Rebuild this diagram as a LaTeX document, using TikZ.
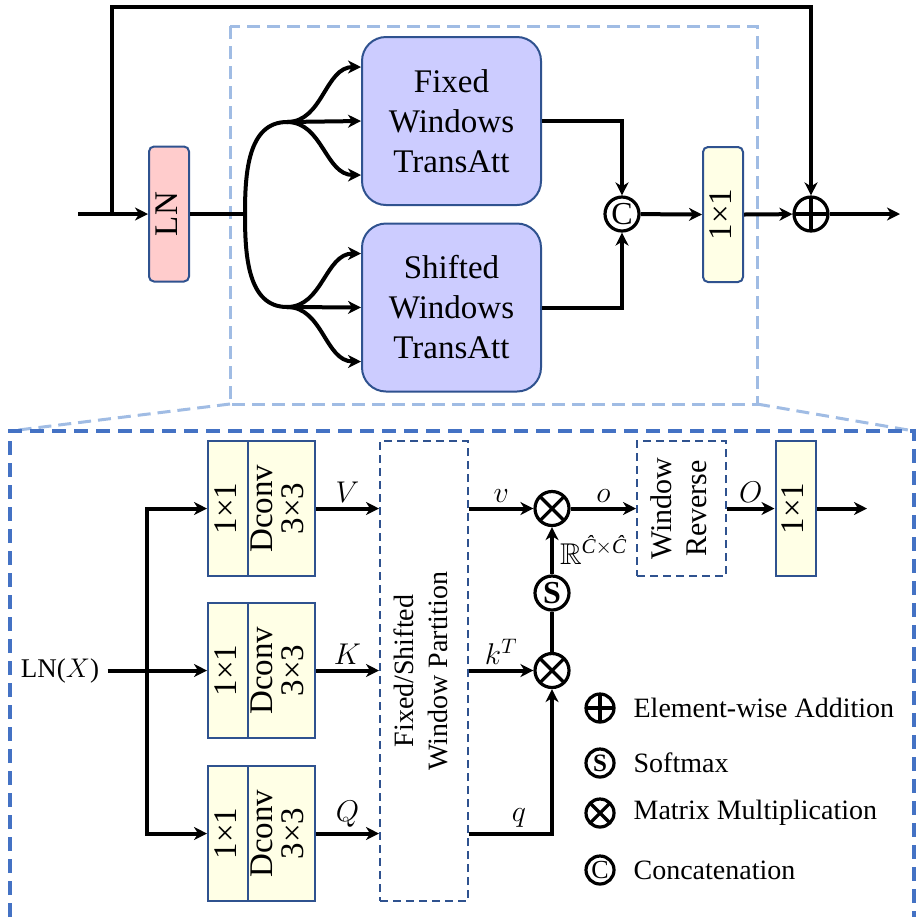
\RequirePackage{fix-cm}
\documentclass[tikz,border=0pt]{standalone}
\usepackage{amsmath,amssymb}
\usepackage{fontspec}
\setmainfont{Liberation Serif}
\usetikzlibrary{arrows.meta,positioning,calc}
\definecolor{lavender}{RGB}{204,204,255}
\definecolor{rosy}{RGB}{255,204,204}
\definecolor{cream}{RGB}{255,255,230}
\definecolor{edgeblue}{RGB}{47,82,143}
\definecolor{paleblue}{RGB}{160,188,228}
\definecolor{frameblue}{RGB}{68,114,196}
\newcommand{\vtext}[1]{\rotatebox{90}{\begin{tabular}{@{}c@{}}#1\end{tabular}}}
\tikzset{%
    att node/.style={draw=edgeblue, fill=lavender, line width=1pt,
        rounded corners=12pt, minimum width=89.5pt, minimum height=84pt,
        align=center, font=\fontsize{16.5}{20}\selectfont},
    bar node/.style={draw=edgeblue, line width=1pt, minimum width=17pt,
        minimum height=67.5pt, inner sep=0pt, font=\fontsize{16.5}{20}\selectfont},
    conv node/.style={draw=edgeblue, fill=cream, line width=1pt,
        minimum width=33.5pt, minimum height=67.5pt, inner sep=0pt,
        font=\fontsize{16.5}{15}\selectfont},
    part node/.style={draw=edgeblue, line width=1pt,
        dash pattern=on 4pt off 2.5pt, inner sep=0pt},
    op node/.style={circle, draw, line width=1.6pt, inner sep=0pt,
        minimum size=17pt},
    plus op/.style={op node, path picture={\draw[line width=1.6pt]
        (path picture bounding box.north) -- (path picture bounding box.south)
        (path picture bounding box.west) -- (path picture bounding box.east);}},
    times op/.style={op node, path picture={\draw[line width=1.6pt]
        (path picture bounding box.north west) -- (path picture bounding box.south east)
        (path picture bounding box.south west) -- (path picture bounding box.north east);}},
    key node/.style={anchor=west, inner sep=0pt, font=\fontsize{14}{16}\selectfont},
    lbl/.style={font=\fontsize{15}{18}\selectfont, inner sep=2pt}
}

\begin{document}
\begin{tikzpicture}[x=0.5pt,y=-0.5pt,line width=2pt,
  >={Stealth[length=6.5pt,width=6.5pt,inset=2pt]}]
\useasboundingbox (0,0) rectangle (919,917);

  % upper block
  \draw[paleblue,line width=1.5pt,dash pattern=on 6.5pt off 3.5pt]
    (230,26) rectangle (757,404);
  \draw[paleblue,line width=1.5pt,dash pattern=on 6.5pt off 3.5pt]
    (230,404) -- (10,431) (757,404) -- (914,431);

  \node[bar node, fill=rosy, rounded corners=2.5pt] (ln) at (169,214) {\vtext{LN}};
  \node[att node] (fixed) at (451.5,121) {Fixed\\Windows\\TransAtt};
  \node[att node] (shifted) at (451.5,307.5) {Shifted\\Windows\\TransAtt};
  \node[op node, font=\fontsize{16}{16}\selectfont] (cat) at (622,214) {C};
  \node[bar node, fill=cream, rounded corners=2.5pt] (proj) at (723,214.5) {\vtext{1×1}};
  \node[plus op] (add) at (811,214) {};

  \coordinate (in) at (78,214);
  \coordinate (skip) at (112,214);
  \coordinate (ceil) at (811,7);
  \coordinate (fork) at (245,214);
  \coordinate (up) at (287,122);
  \coordinate (dn) at (287,307);
  \coordinate (out) at (900,214);

  \draw[->] (in) -- (ln.west);
  \draw[->] (skip) |- (ceil) -- (add.north);
  \draw (ln.east) -- (fork);
  \draw (up) to[out=180,in=90] (fork) to[out=-90,in=180] (dn);
  \foreach \b/\t in {up/fixed, dn/shifted}{
    \draw[->] (\b) to[out=0,in=180] ($(\t.west)+(0,-54)$);
    \draw[->] (\b) -- (\t.west);
    \draw[->] (\b) to[out=0,in=180] ($(\t.west)+(0,54)$);
  }
  \draw[->] (fixed.east) -| (cat.north);
  \draw[->] (shifted.east) -| (cat.south);
  \draw[->] (cat) -- (proj.west);
  \draw[->] (proj.east) -- (add);
  \draw[->] (add) -- (out);

  % lower block
  \draw[frameblue,line width=2pt,dash pattern=on 7pt off 4pt]
    (10,917) -- (10,431) -- (914,431) -- (914,917);

  \node[font=\fontsize{13.5}{16}\selectfont] (lnx) at (60,670.5) {LN($X$)};
  \node[bar node, fill=cream] (v1) at (228,508.5) {\vtext{1×1}};
  \node[conv node, right=-1pt of v1] (vd) {\vtext{Dconv\\3×3}};
  \node[bar node, fill=cream] (k1) at (228,670.5) {\vtext{1×1}};
  \node[conv node, right=-1pt of k1] (kd) {\vtext{Dconv\\3×3}};
  \node[bar node, fill=cream] (q1) at (228,833.5) {\vtext{1×1}};
  \node[conv node, right=-1pt of q1] (qd) {\vtext{Dconv\\3×3}};

  \node[part node, minimum width=44pt, minimum height=230pt,
    font=\fontsize{14}{17}\selectfont] (part) at (424,671)
    {\vtext{Fixed/Shifted\\Window Partition}};
  \node[times op] (mul1) at (552,508.5) {};
  \node[op node, font=\fontsize{16}{16}\bfseries] (soft) at (552,593) {S};
  \node[times op] (mul2) at (552,670.5) {};
  \node[part node, minimum width=44.5pt, minimum height=67.5pt,
    font=\fontsize{15}{17.5}\selectfont] (rev) at (681.5,508.5)
    {\vtext{Window\\Reverse}};
  \node[bar node, fill=cream, minimum width=16.5pt] (proj2) at (795.5,508.5) {\vtext{1×1}};
  \node[font=\fontsize{15}{18}\selectfont, inner sep=0pt, anchor=west] (dim)
    at (558,550) {$\mathbb{R}^{\textit{Ĉ}\times\textit{Ĉ}}$};

  \coordinate (split) at (147,670.5);
  \coordinate (out2) at (867,508.5);

  \draw[->] (lnx.east) -- (k1.west);
  \draw[->] (split) |- (v1.west);
  \draw[->] (split) |- (q1.west);
  \draw[->] (vd.east) -- (part.west |- vd) node[lbl, midway, above] {$V$};
  \draw[->] (kd.east) -- (part.west |- kd) node[lbl, midway, above] {$K$};
  \draw[->] (qd.east) -- (part.west |- qd) node[lbl, midway, above] {$Q$};
  \draw[->] (part.east |- mul1) -- (mul1) node[lbl, midway, above] {$v$};
  \draw[->] (part.east |- mul2) -- (mul2) node[lbl, midway, above] {$k^T$};
  \draw[->] (part.east |- qd) -| (mul2) node[lbl, pos=0.3, above] {$q$};
  \draw (mul2) -- (soft);
  \draw[->] (soft) -- (mul1);
  \draw[->] (mul1) -- (rev.west) node[lbl, midway, above] {$o$};
  \draw[->] (rev.east) -- (proj2.west) node[lbl, midway, above] {$O$};
  \draw[->] (proj2.east) -- (out2);

  % legend
  \node[plus op, minimum size=14pt] (kadd) at (600,708) {};
  \node[key node, right=8pt of kadd] (tadd) {Element-wise Addition};
  \node[op node, minimum size=14pt, font=\fontsize{12.5}{12.5}\bfseries] (ksoft) at (600,763) {S};
  \node[key node, right=8pt of ksoft] (tsoft) {Softmax};
  \node[times op, minimum size=14pt] (kmul) at (600,813) {};
  \node[key node, right=8pt of kmul] (tmul) {Matrix Multiplication};
  \node[op node, minimum size=14pt, font=\fontsize{13}{13}\selectfont] (kcat) at (600,870) {C};
  \node[key node, right=8pt of kcat] (tcat) {Concatenation};
\end{tikzpicture}
\end{document}
